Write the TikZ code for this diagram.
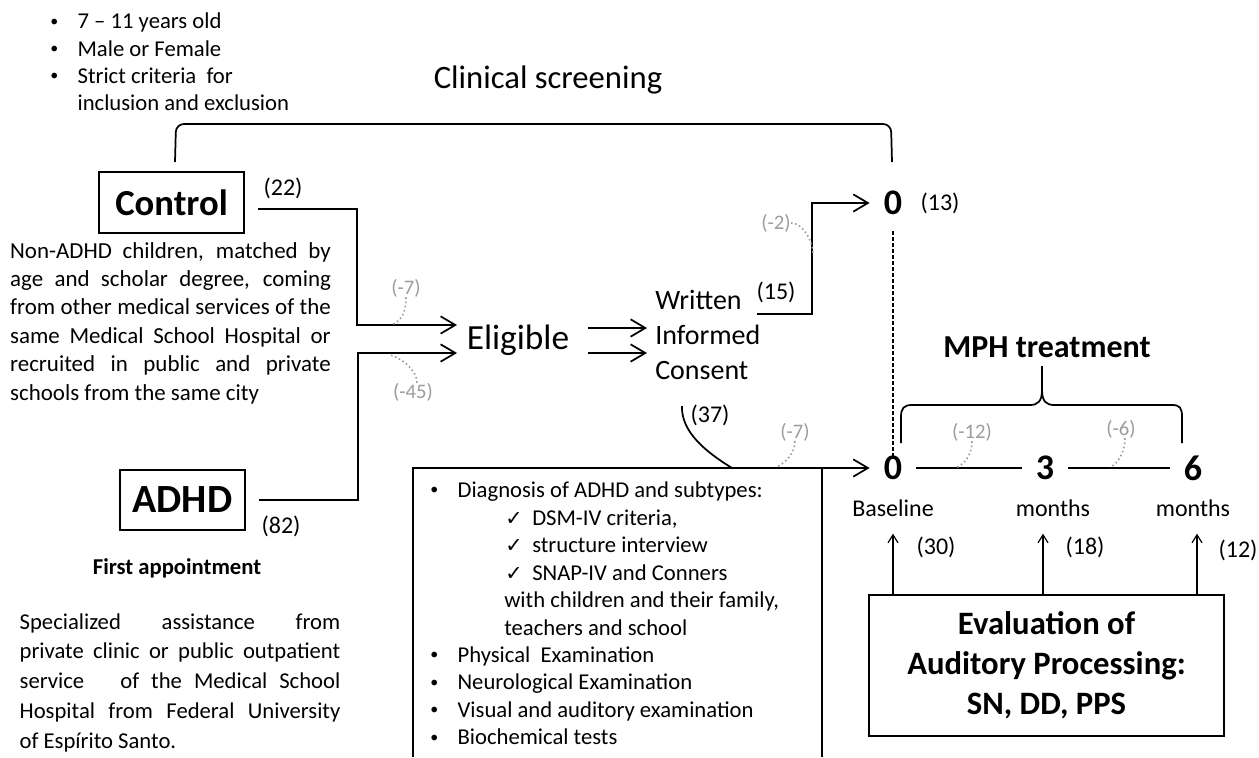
\documentclass[tikz,border=0pt]{standalone}
\usepackage{fontspec}
\setmainfont{Carlito}
\newfontfamily\symfont{DejaVu Sans}
\usetikzlibrary{arrows.meta}

\definecolor{lossgray}{HTML}{9C9C9C}
\newcommand{\itm}{\makebox[20.5pt][l]{\raisebox{0.12em}{\fontsize{12}{12}\selectfont\textbullet}}}
\newcommand{\chk}{\hspace*{56.25pt}\makebox[20.25pt][l]{\symfont\fontsize{15.5}{17}\selectfont ✓}}
\newcommand{\jl}[1]{\makebox[240.5pt][s]{#1}}

\tikzset{
  flow/.style={line width=1.3pt},
  thinline/.style={line width=0.9pt},
  big/.style={-{Straight Barb[length=11pt,width=13pt]}},
  small/.style={-{Straight Barb[length=6pt,width=7.5pt]}},
  box/.style={draw,line width=1.3pt},
  loss/.style={draw=lossgray,dotted,line width=1.2pt},
  losslabel/.style={text=lossgray,font=\fontsize{15.5}{18}\selectfont},
  count/.style={font=\fontsize{18}{21}\selectfont},
  body/.style={font=\fontsize{17}{20.6}\selectfont},
  time/.style={font=\bfseries\fontsize{27}{29}\selectfont,inner xsep=10.5pt},
  tlabel/.style={font=\fontsize{18}{21}\selectfont}
}

\begin{document}
\begin{tikzpicture}[x=0.75pt,y=-0.75pt,inner sep=0pt]
\useasboundingbox (0,0) rectangle (1259,757);

% criteria and screening
\node[anchor=west,align=left,font=\fontsize{17}{20.5}\selectfont] (crit) at (50,62)
  {\itm 7 – 11 years old\\ \itm Male or Female\\ \itm Strict criteria~ for\\ \hspace*{20.5pt}inclusion and exclusion};
\node[font=\fontsize{24.5}{28}\selectfont] (clin) at (548,80) {Clinical screening};
\coordinate (brL) at (175,162);
\coordinate (brR) at (892,162);
\draw[flow,rounded corners=6pt] (brL) -- ++(1,-38) -- ++(715,0) -- (brR);

% control group
\node[box,minimum width=108.75pt,minimum height=45.75pt,font=\bfseries\fontsize{27.5}{30}\selectfont] (control) at (171.5,202.5) {Control};
\node[count] (n22) at (283,188) {(22)};
\node[align=left,font=\fontsize{17.2}{21.3}\selectfont] (nonadhd) at (170.5,323)
  {\jl{Non-ADHD children, matched by}\\
   \jl{age and scholar degree, coming}\\
   \jl{from other medical services of the}\\
   \jl{same Medical School Hospital or}\\
   \jl{recruited in public and private}\\
   schools from the same city};

% ADHD group
\node[box,minimum width=93.75pt,minimum height=45pt,font=\bfseries\fontsize{30}{32}\selectfont] (adhd) at (182.5,500) {ADHD};
\node[count] (n82) at (281,526) {(82)};
\node[font=\bfseries\fontsize{17}{20}\selectfont] (first) at (177,568) {First appointment};
\node[align=left,font=\fontsize{17}{22.3}\selectfont] (special) at (180,682.5)
  {\jl{Specialized \hfill assistance \hfill from}\\
   \jl{private clinic or public outpatient}\\
   \jl{service ~ of the Medical School}\\
   \jl{Hospital from Federal University}\\
   of Espírito Santo.};

% into Eligible
\coordinate (cout) at (258,209);
\coordinate (aout) at (259,500);
\coordinate (e1) at (457,325);
\coordinate (e2) at (457,353);
\draw[flow,big] (cout) -- ++(99,0) |- (e1);
\draw[flow,big] (aout) -- ++(99,0) |- (e2);
\node[losslabel] (m7a) at (406,288) {(-7)};
\draw[loss] (m7a.south) .. controls +(0,14) and +(9,-4) .. ++(-13,27);
\node[losslabel] (m45) at (413,392) {(-45)};
\draw[loss] ([xshift=3pt]m45.north) .. controls +(0,-14) and +(10,2) .. ++(-28,-28);

\node[font=\fontsize{26.5}{30}\selectfont] (elig) at (518,340) {Eligible};
\coordinate (o1) at (588,328);
\coordinate (o2) at (588,353);
\coordinate (w1) at (647,328);
\coordinate (w2) at (647,353);
\draw[flow,big] (o1) -- (w1);
\draw[flow,big] (o2) -- (w2);

% consent
\node[anchor=west,align=left,font=\fontsize{21}{26.25}\selectfont] (wic) at (655,335) {Written\\Informed\\Consent};
\node[count] (n15) at (776,292) {(15)};
\node[time] (zeroA) at (893,203) {0};
\node[count] (n13) at (940,203) {(13)};
\coordinate (wout) at (757,314);
\draw[flow,big] (wout) -- ++(55,0) |- (zeroA.west);
\node[losslabel] (m2) at (776,223) {(-2)};
\draw[loss] (m2.east) .. controls +(12,0) and +(0,-12) .. ++(22,30);

% diagnosis box
\node[time] (zeroB) at (893,468) {0};
\node[time] (three) at (1045,468) {3};
\node[time] (six) at (1193,468) {6};
\coordinate (dgL) at (413,757);
\coordinate (dgR) at (822,757);
\draw[flow,big] (dgL) |- (zeroB.west);
\draw[flow] (dgR) -- (dgR |- zeroB.west);
\node[anchor=west,align=left,body] (diag) at (430,613.5)
  {\itm Diagnosis of ADHD and subtypes:\\
   \chk DSM-IV criteria,\\
   \chk structure interview\\
   \chk SNAP-IV and Conners\\
   \hspace*{55.5pt}with children and their family,\\
   \hspace*{55.5pt}teachers and school\\
   \itm Physical~ Examination\\
   \itm Neurological Examination\\
   \itm Visual and auditory examination\\
   \itm Biochemical tests};
\node[count] (n37) at (710,415) {(37)};
\coordinate (c37) at (682,406);
\coordinate (j37) at (732,468);
\draw[flow] (c37) .. controls (681,432) and (706,452) .. (j37);
\node[losslabel] (m7b) at (795,432) {(-7)};
\draw[loss] (m7b.south) .. controls +(0,12) and +(9,-4) .. ++(-19,26);

% follow-up
\draw[dash pattern=on 3pt off 1.5pt,line width=1pt,shorten <=12pt] (zeroA.south) -- (zeroB.north);
\draw[thinline] (zeroB.east) -- (three.west);
\draw[thinline] (three.east) -- (six.west);
\node[losslabel] (m12) at (972,432) {(-12)};
\draw[loss] (m12.south) .. controls +(0,12) and +(9,-4) .. ++(-15,26);
\node[losslabel] (m6) at (1121,429) {(-6)};
\draw[loss] ([xshift=3pt]m6.south) .. controls +(0,12) and +(9,-4) .. ++(-15,29);

\node[font=\bfseries\fontsize{24}{28}\selectfont] (mph) at (1047,347) {MPH treatment};
\coordinate (bL) at (901,443);
\coordinate (bR) at (1182,443);
\coordinate (bTip) at (1042,366);
\draw[flow] (bL) -- (901,417) .. controls (901,408) and (904,405) .. (912,405) -- (1030,405)
  .. controls (1038,405) and (1042,401) .. (1042,390) -- (bTip)
  (1042,390) .. controls (1042,401) and (1046,405) .. (1054,405) -- (1172,405)
  .. controls (1180,405) and (1182,408) .. (1182,417) -- (bR);

\node[tlabel] (base) at (893,508) {Baseline};
\node[tlabel] (mon3) at (1053,508) {months};
\node[tlabel] (mon6) at (1193,508) {months};

% evaluation
\node[box,minimum width=266.25pt,minimum height=105.75pt,align=center,font=\bfseries\fontsize{24.5}{30}\selectfont] (eval) at (1046.5,665.5)
  {Evaluation of\\Auditory Processing:\\SN, DD, PPS};
\draw[thinline,small,shorten >=12.75pt] (eval.north -| zeroB) -- (zeroB |- base.south);
\draw[thinline,small,shorten >=12.75pt] ([xshift=-1.5pt]eval.north -| three) -- ([xshift=-1.5pt]three |- base.south);
\draw[thinline,small,shorten >=12.75pt] ([xshift=3pt]eval.north -| six) -- ([xshift=3pt]six |- base.south);
\node[count] (n30) at (936,547) {(30)};
\node[count] (n18) at (1085,547) {(18)};
\node[count] (n12) at (1238,550) {(12)};
\end{tikzpicture}
\end{document}
